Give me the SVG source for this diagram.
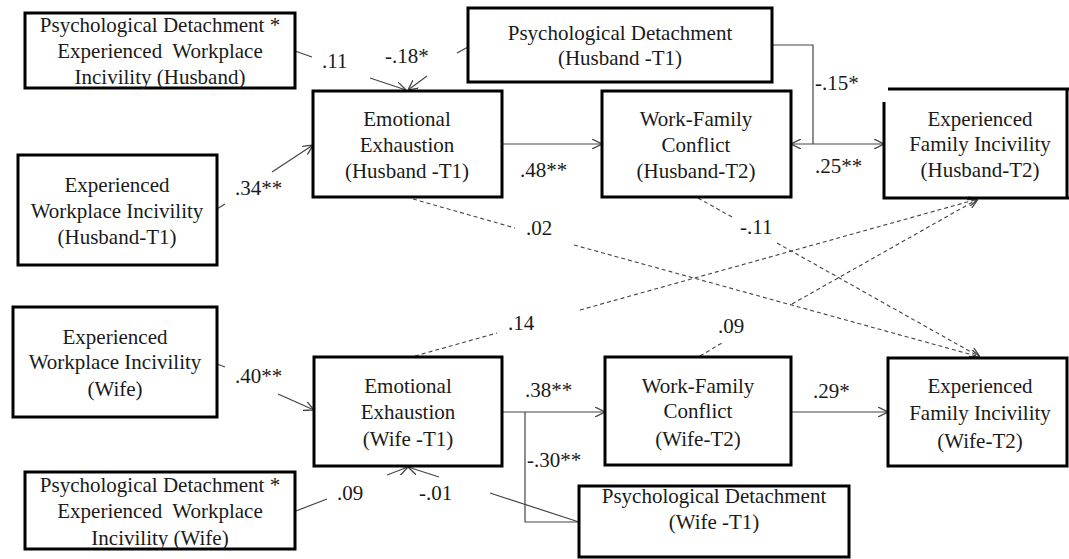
<svg xmlns="http://www.w3.org/2000/svg" width="1069" height="559" viewBox="0 0 1069 559">
<style>
.box{fill:#fff;stroke:#000;stroke-width:3}
.c{fill:none;stroke:#444;stroke-width:1.2}
.d{fill:none;stroke:#444;stroke-width:1.1;stroke-dasharray:4 3}
</style>
<defs>
<marker id="ah" viewBox="0 0 10 10" refX="10" refY="5" markerWidth="10" markerHeight="10" markerUnits="userSpaceOnUse" orient="auto-start-reverse">
<path d="M0,0 L10,5 L0,10" fill="none" stroke="#444" stroke-width="1.3"/>
</marker>
</defs>
<rect width="1069" height="559" fill="#fff"/>
<g id="connectors">
<line class="c" x1="295" y1="51" x2="312" y2="57"/>
<line class="c" x1="370" y1="78" x2="406" y2="90" marker-end="url(#ah)"/>
<line class="c" x1="468" y1="47" x2="457" y2="53"/>
<line class="c" x1="427" y1="76" x2="408" y2="90" marker-end="url(#ah)"/>
<line class="c" x1="217" y1="209" x2="225" y2="204"/>
<line class="c" x1="272" y1="172" x2="313" y2="145" marker-end="url(#ah)"/>
<line class="c" x1="502" y1="144" x2="602" y2="144" marker-end="url(#ah)"/>
<polyline class="c" points="772,45 813,45 813,144"/>
<line class="c" x1="791" y1="144" x2="884" y2="144" marker-start="url(#ah)" marker-end="url(#ah)"/>
<line class="d" x1="413" y1="199" x2="515" y2="228"/>
<line class="d" x1="574" y1="245" x2="980" y2="357" marker-end="url(#ah)"/>
<line class="d" x1="698" y1="198" x2="732" y2="217"/>
<line class="d" x1="777" y1="243" x2="980" y2="357" marker-end="url(#ah)"/>
<line class="d" x1="415" y1="356" x2="497" y2="333"/>
<line class="d" x1="580" y1="310" x2="978" y2="199" marker-end="url(#ah)"/>
<line class="d" x1="700" y1="356" x2="722" y2="343"/>
<line class="d" x1="792" y1="304" x2="978" y2="199" marker-end="url(#ah)"/>
<line class="c" x1="217" y1="364" x2="225" y2="367"/>
<line class="c" x1="278" y1="394" x2="314" y2="410" marker-end="url(#ah)"/>
<line class="c" x1="502" y1="412" x2="605" y2="412" marker-end="url(#ah)"/>
<polyline class="c" points="525,412 525,522 579,522"/>
<line class="c" x1="579" y1="522" x2="490" y2="493"/>
<line class="c" x1="439" y1="477" x2="408" y2="467" marker-end="url(#ah)"/>
<line class="c" x1="296" y1="511" x2="327" y2="499"/>
<line class="c" x1="387" y1="475" x2="408" y2="467" marker-end="url(#ah)"/>
<line class="c" x1="791" y1="412" x2="888" y2="412" marker-end="url(#ah)"/>
</g>
<g id="labels" fill="#1a1a1a">
<text x="322" y="68" font-family="Liberation Serif" font-size="21">.11</text>
<text x="385" y="63" font-family="Liberation Serif" font-size="21">-.18*</text>
<text x="235" y="195" font-family="Liberation Serif" font-size="21">.34**</text>
<text x="520" y="177" font-family="Liberation Serif" font-size="21">.48**</text>
<text x="815" y="90" font-family="Liberation Serif" font-size="21">-.15*</text>
<text x="815" y="173" font-family="Liberation Serif" font-size="21">.25**</text>
<text x="526" y="235" font-family="Liberation Serif" font-size="21">.02</text>
<text x="740" y="234" font-family="Liberation Serif" font-size="21">-.11</text>
<text x="508" y="330" font-family="Liberation Serif" font-size="21">.14</text>
<text x="718" y="333" font-family="Liberation Serif" font-size="21">.09</text>
<text x="235" y="383" font-family="Liberation Serif" font-size="21">.40**</text>
<text x="525" y="397" font-family="Liberation Serif" font-size="21">.38**</text>
<text x="527" y="467" font-family="Liberation Serif" font-size="21">-.30**</text>
<text x="419" y="500" font-family="Liberation Serif" font-size="21">-.01</text>
<text x="337" y="500" font-family="Liberation Serif" font-size="21">.09</text>
<text x="813" y="398" font-family="Liberation Serif" font-size="21">.29*</text>
</g>
<g id="n1" fill="#1a1a1a">
<rect class="box" x="25" y="13" width="270" height="75"/>
<text x="160" y="32" text-anchor="middle" font-family="Liberation Serif" font-size="21">Psychological Detachment *</text>
<text x="160" y="58" text-anchor="middle" font-family="Liberation Serif" font-size="21">Experienced&#160; Workplace</text>
<text x="160" y="84" text-anchor="middle" font-family="Liberation Serif" font-size="21">Incivility (Husband)</text>
</g>
<g id="n2" fill="#1a1a1a">
<rect class="box" x="18" y="155" width="199" height="110"/>
<text x="117" y="192" text-anchor="middle" font-family="Liberation Serif" font-size="21">Experienced</text>
<text x="117" y="218" text-anchor="middle" font-family="Liberation Serif" font-size="21">Workplace Incivility</text>
<text x="117" y="244" text-anchor="middle" font-family="Liberation Serif" font-size="21">(Husband-T1)</text>
</g>
<g id="n3" fill="#1a1a1a">
<rect class="box" x="313" y="91" width="189" height="106"/>
<text x="407" y="126" text-anchor="middle" font-family="Liberation Serif" font-size="21">Emotional</text>
<text x="407" y="152" text-anchor="middle" font-family="Liberation Serif" font-size="21">Exhaustion</text>
<text x="407" y="178" text-anchor="middle" font-family="Liberation Serif" font-size="21">(Husband -T1)</text>
</g>
<g id="n4" fill="#1a1a1a">
<rect class="box" x="468" y="8" width="304" height="74"/>
<text x="620" y="40" text-anchor="middle" font-family="Liberation Serif" font-size="21">Psychological Detachment</text>
<text x="620" y="65" text-anchor="middle" font-family="Liberation Serif" font-size="21">(Husband -T1)</text>
</g>
<g id="n5" fill="#1a1a1a">
<rect class="box" x="602" y="91" width="189" height="106"/>
<text x="696" y="126" text-anchor="middle" font-family="Liberation Serif" font-size="21">Work-Family</text>
<text x="696" y="152" text-anchor="middle" font-family="Liberation Serif" font-size="21">Conflict</text>
<text x="696" y="178" text-anchor="middle" font-family="Liberation Serif" font-size="21">(Husband-T2)</text>
</g>
<g id="n6" fill="#1a1a1a">
<path d="M888,89 L1069,89 M884,102 L884,198 L1069,198 M1067,89 L1067,198" fill="none" stroke="#000" stroke-width="3"/>
<text x="980" y="126" text-anchor="middle" font-family="Liberation Serif" font-size="21">Experienced</text>
<text x="980" y="151" text-anchor="middle" font-family="Liberation Serif" font-size="21">Family Incivility</text>
<text x="980" y="177" text-anchor="middle" font-family="Liberation Serif" font-size="21">(Husband-T2)</text>
</g>
<g id="n7" fill="#1a1a1a">
<rect class="box" x="13" y="307" width="204" height="110"/>
<text x="115" y="344" text-anchor="middle" font-family="Liberation Serif" font-size="21">Experienced</text>
<text x="115" y="369" text-anchor="middle" font-family="Liberation Serif" font-size="21">Workplace Incivility</text>
<text x="115" y="396" text-anchor="middle" font-family="Liberation Serif" font-size="21">(Wife)</text>
</g>
<g id="n8" fill="#1a1a1a">
<rect class="box" x="314" y="357" width="188" height="109"/>
<text x="408" y="393" text-anchor="middle" font-family="Liberation Serif" font-size="21">Emotional</text>
<text x="408" y="419" text-anchor="middle" font-family="Liberation Serif" font-size="21">Exhaustion</text>
<text x="408" y="446" text-anchor="middle" font-family="Liberation Serif" font-size="21">(Wife -T1)</text>
</g>
<g id="n9" fill="#1a1a1a">
<rect class="box" x="605" y="357" width="186" height="108"/>
<text x="698" y="393" text-anchor="middle" font-family="Liberation Serif" font-size="21">Work-Family</text>
<text x="698" y="418" text-anchor="middle" font-family="Liberation Serif" font-size="21">Conflict</text>
<text x="698" y="446" text-anchor="middle" font-family="Liberation Serif" font-size="21">(Wife-T2)</text>
</g>
<g id="n10" fill="#1a1a1a">
<rect class="box" x="888" y="358" width="179" height="108"/>
<text x="980" y="393" text-anchor="middle" font-family="Liberation Serif" font-size="21">Experienced</text>
<text x="980" y="420" text-anchor="middle" font-family="Liberation Serif" font-size="21">Family Incivility</text>
<text x="980" y="448" text-anchor="middle" font-family="Liberation Serif" font-size="21">(Wife-T2)</text>
</g>
<g id="n11" fill="#1a1a1a">
<rect class="box" x="25" y="472" width="270" height="77"/>
<text x="160" y="492" text-anchor="middle" font-family="Liberation Serif" font-size="21">Psychological Detachment *</text>
<text x="160" y="518" text-anchor="middle" font-family="Liberation Serif" font-size="21">Experienced&#160; Workplace</text>
<text x="160" y="545" text-anchor="middle" font-family="Liberation Serif" font-size="21">Incivility (Wife)</text>
</g>
<g id="n12" fill="#1a1a1a">
<rect class="box" x="579" y="486" width="270" height="71"/>
<text x="714" y="503" text-anchor="middle" font-family="Liberation Serif" font-size="21">Psychological Detachment</text>
<text x="714" y="529" text-anchor="middle" font-family="Liberation Serif" font-size="21">(Wife -T1)</text>
</g>
</svg>
